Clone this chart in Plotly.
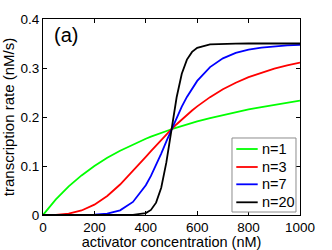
import plotly.graph_objects as go

activator_nM = [0, 25, 50, 100, 150, 200, 250, 300, 350, 400, 420, 440, 460, 480, 500,
                520, 540, 560, 580, 600, 650, 700, 750, 800, 850, 900, 950, 1000]
rate_n1 = [0, 0.016667, 0.031818, 0.058333, 0.080769, 0.1, 0.116667, 0.13125, 0.144118,
           0.155556, 0.159783, 0.16383, 0.167708, 0.171429, 0.175, 0.178431, 0.181731,
           0.184906, 0.187963, 0.190909, 0.197826, 0.204167, 0.21, 0.215385, 0.22037,
           0.225, 0.22931, 0.233333]
rate_n3 = [0, 0.000044, 0.00035, 0.002778, 0.009202, 0.021053, 0.038889, 0.062171, 0.08939,
           0.118519, 0.130248, 0.141848, 0.153226, 0.164297, 0.175, 0.185284, 0.195113,
           0.204465, 0.213328, 0.221701, 0.240522, 0.256517, 0.27, 0.281319, 0.290808,
           0.29877, 0.305465, 0.311111]
rate_n7 = [0, 0, 0, 0.0000045, 0.0000765, 0.000573, 0.002713, 0.009531, 0.026631, 0.060677,
           0.07975, 0.10154, 0.12533, 0.15017, 0.175, 0.19887, 0.22103, 0.24099, 0.25852,
           0.27363, 0.30189, 0.31967, 0.33065, 0.33743, 0.34167, 0.34437, 0.34613, 0.34729]
rate_n20 = [0, 0, 0, 0, 0, 0, 0, 0.0000128, 0.00028, 0.00399, 0.01039, 0.02519, 0.05556,
            0.10728, 0.175, 0.24032, 0.28818, 0.31713, 0.33289, 0.3411, 0.34817, 0.34958,
            0.34989, 0.34997, 0.34999, 0.35, 0.35, 0.35]

series_names = ["n=1", "n=3", "n=7", "n=20"]
series_values = [rate_n1, rate_n3, rate_n7, rate_n20]
series_colors = ["#00ff00", "#ff0000", "#0000ff", "#000000"]

x_ticks = [0, 200, 400, 600, 800, 1000]
y_ticks = [0, 0.1, 0.2, 0.3, 0.4]
y_tick_labels = ["0", "0.1", "0.2", "0.3", "0.4"]

FONT = "Liberation Sans, Arial, Helvetica, sans-serif"

fig = go.Figure()
for name, vals, col in zip(series_names, series_values, series_colors):
    fig.add_trace(go.Scatter(x=activator_nM, y=vals, mode="lines", name=name,
                             line=dict(color=col, width=1.8), showlegend=False))

# manual legend (MATLAB-style short line samples)
leg_x0, leg_x1 = 0.7354, 0.9844
leg_y0, leg_y1 = 0.0153, 0.3929
fig.add_shape(type="rect", xref="paper", yref="paper", x0=leg_x0, x1=leg_x1,
              y0=leg_y0, y1=leg_y1, line=dict(color="#8c8c8c", width=1),
              fillcolor="white", layer="above")
entry_y = [0.3367, 0.2449, 0.1566, 0.0648]
for name, col, ey in zip(series_names, series_colors, entry_y):
    fig.add_shape(type="line", xref="paper", yref="paper", x0=0.7521, x1=0.8354,
                  y0=ey, y1=ey, line=dict(color=col, width=1.8), layer="above")
    fig.add_annotation(xref="paper", yref="paper", x=0.8455, y=ey, text=name,
                       showarrow=False, xanchor="left", yanchor="middle",
                       font=dict(family=FONT, size=14.5, color="black"))

fig.add_annotation(xref="paper", yref="paper", x=0.035, y=0.918, text="(a)",
                   showarrow=False, xanchor="left", yanchor="middle",
                   font=dict(family=FONT, size=20, color="black"))

axis_common = dict(showline=True, linecolor="black", linewidth=1, mirror="ticks",
                   ticks="inside", ticklen=4, tickcolor="black", showgrid=False,
                   zeroline=False, tickfont=dict(family=FONT, size=13.5, color="black"))

fig.update_xaxes(range=[0, 1000], tickvals=x_ticks,
                 title=dict(text="activator concentration (nM)", standoff=3,
                            font=dict(family=FONT, size=14.5, color="black")),
                 **axis_common)
fig.update_yaxes(range=[0, 0.4], tickvals=y_ticks, ticktext=y_tick_labels,
                 title=dict(text="transcription rate (nM/s)", standoff=3,
                            font=dict(family=FONT, size=15, color="black")),
                 **axis_common)

fig.update_layout(width=332, height=250, margin=dict(l=43, r=32, t=19, b=35, autoexpand=False),
                  paper_bgcolor="white", plot_bgcolor="white",
                  font=dict(family=FONT, size=14, color="black"))

fig.write_html("out.html", config={"displayModeBar": False},
               post_script="document.body.style.margin='0';")
